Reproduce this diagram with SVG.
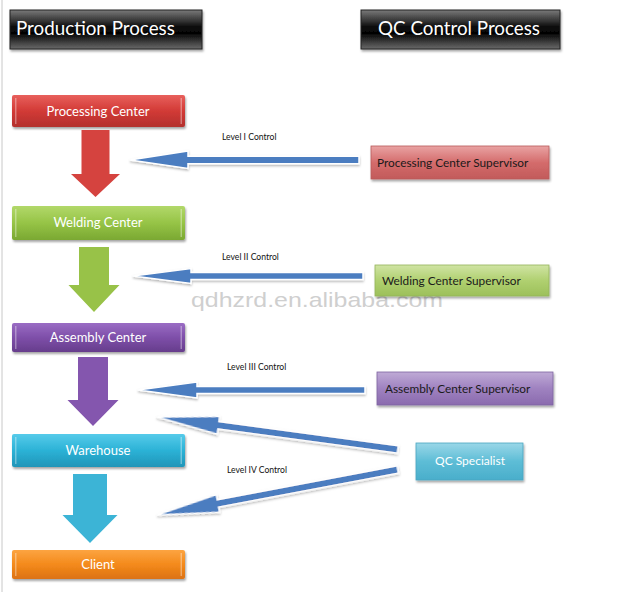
<svg xmlns="http://www.w3.org/2000/svg" width="634" height="604" viewBox="0 0 634 604">
<defs>
<linearGradient id="gHead" x1="0" y1="0" x2="0" y2="1"><stop offset="0" stop-color="#7a7a7a"/><stop offset="0.45" stop-color="#0a0a0a"/><stop offset="0.6" stop-color="#050505"/><stop offset="1" stop-color="#6a6a6a"/></linearGradient>
<linearGradient id="gRed" x1="0" y1="0" x2="0" y2="1"><stop offset="0" stop-color="#e8605c"/><stop offset="0.5" stop-color="#d23a36"/><stop offset="1" stop-color="#b3302d"/></linearGradient>
<linearGradient id="gGreen" x1="0" y1="0" x2="0" y2="1"><stop offset="0" stop-color="#b2d86a"/><stop offset="0.5" stop-color="#96c446"/><stop offset="1" stop-color="#7aa832"/></linearGradient>
<linearGradient id="gPurple" x1="0" y1="0" x2="0" y2="1"><stop offset="0" stop-color="#9a6cc4"/><stop offset="0.5" stop-color="#7e4fa9"/><stop offset="1" stop-color="#663d8c"/></linearGradient>
<linearGradient id="gCyan" x1="0" y1="0" x2="0" y2="1"><stop offset="0" stop-color="#56cbea"/><stop offset="0.5" stop-color="#2cb2d6"/><stop offset="1" stop-color="#1f95b8"/></linearGradient>
<linearGradient id="gOrange" x1="0" y1="0" x2="0" y2="1"><stop offset="0" stop-color="#fca440"/><stop offset="0.5" stop-color="#f48a1c"/><stop offset="1" stop-color="#dc7212"/></linearGradient>
<linearGradient id="sRed" x1="0" y1="0" x2="0" y2="1"><stop offset="0" stop-color="#e9a3a3"/><stop offset="0.5" stop-color="#d46c6c"/><stop offset="1" stop-color="#c25a5a"/></linearGradient>
<linearGradient id="sGreen" x1="0" y1="0" x2="0" y2="1"><stop offset="0" stop-color="#d0e4a4"/><stop offset="0.5" stop-color="#b0d070"/><stop offset="1" stop-color="#9cc05a"/></linearGradient>
<linearGradient id="sPurple" x1="0" y1="0" x2="0" y2="1"><stop offset="0" stop-color="#bfaad6"/><stop offset="0.5" stop-color="#9f82c0"/><stop offset="1" stop-color="#8a6aae"/></linearGradient>
<linearGradient id="sCyan" x1="0" y1="0" x2="0" y2="1"><stop offset="0" stop-color="#9ad7e8"/><stop offset="0.5" stop-color="#5dbdd6"/><stop offset="1" stop-color="#4aaecb"/></linearGradient>
<filter id="sh" x="-10%" y="-20%" width="120%" height="160%"><feDropShadow dx="1" dy="2" stdDeviation="1.2" flood-color="#000" flood-opacity="0.35"/></filter>
<filter id="ash" x="-10%" y="-50%" width="120%" height="200%"><feDropShadow dx="0" dy="1.5" stdDeviation="1" flood-color="#000" flood-opacity="0.3"/></filter>
</defs>
<style>
.hd{font-family:Lato,"Open Sans",sans-serif;font-size:18.8px;fill:#fff}
.bt{font-family:Lato,"Open Sans",sans-serif;font-size:13px;fill:#fff;text-anchor:middle}
.st{font-family:Lato,"Open Sans",sans-serif;font-size:11.8px;fill:#1a1a1a}
.lv{font-family:Lato,"Open Sans",sans-serif;font-size:8.6px;fill:#111}
.edge{fill:#fff;opacity:0.35}
.blue{fill:#4b7dc0;stroke:#fff;stroke-width:1.5;stroke-linejoin:miter;filter:url(#ash)}
</style>
<rect width="634" height="604" fill="#fff"/>
<line x1="2" y1="0" x2="2" y2="592" stroke="#c8c8c8" stroke-width="1"/>
<text x="191" y="307" font-family="Liberation Sans,Arial,sans-serif" font-size="21" fill="#cfcfcf" textLength="252" lengthAdjust="spacingAndGlyphs">qdhzrd.en.alibaba.com</text>

<g id="hdr-production"><rect x="10" y="10" width="192" height="39" fill="url(#gHead)" stroke="#222" stroke-width="1" filter="url(#sh)"/><text class="hd" x="16" y="35">Production Process</text></g>
<g id="hdr-qc"><rect x="361" y="10" width="199" height="39" fill="url(#gHead)" stroke="#222" stroke-width="1" filter="url(#sh)"/><text class="hd" x="378" y="35">QC Control Process</text></g>

<g id="processing-center"><rect x="12" y="95" width="173" height="32" rx="2" fill="url(#gRed)" filter="url(#sh)"/><rect class="edge" x="15" y="98" width="1.5" height="26"/><rect class="edge" x="180.5" y="98" width="1.5" height="26"/><text class="bt" x="98" y="116">Processing Center</text></g>
<g id="welding-center"><rect x="12" y="206" width="173" height="34" rx="2" fill="url(#gGreen)" filter="url(#sh)"/><rect class="edge" x="15" y="209" width="1.5" height="28"/><rect class="edge" x="180.5" y="209" width="1.5" height="28"/><text class="bt" x="98" y="227">Welding Center</text></g>
<g id="assembly-center"><rect x="12" y="323" width="173" height="29" rx="2" fill="url(#gPurple)" filter="url(#sh)"/><rect class="edge" x="15" y="326" width="1.5" height="23"/><rect class="edge" x="180.5" y="326" width="1.5" height="23"/><text class="bt" x="98" y="342">Assembly Center</text></g>
<g id="warehouse"><rect x="12" y="434" width="173" height="33" rx="2" fill="url(#gCyan)" filter="url(#sh)"/><rect class="edge" x="15" y="437" width="1.5" height="27"/><rect class="edge" x="180.5" y="437" width="1.5" height="27"/><text class="bt" x="98" y="455">Warehouse</text></g>
<g id="client"><rect x="12" y="550" width="173" height="29" rx="2" fill="url(#gOrange)" filter="url(#sh)"/><rect class="edge" x="15" y="553" width="1.5" height="23"/><rect class="edge" x="180.5" y="553" width="1.5" height="23"/><text class="bt" x="98" y="569">Client</text></g>

<g id="sup-processing"><rect x="371" y="146" width="178" height="33" fill="url(#sRed)" stroke="#b85a5a" stroke-width="0.8" filter="url(#sh)"/><text class="st" x="377" y="167">Processing Center Supervisor</text></g>
<g id="sup-welding"><rect x="375" y="265" width="174" height="31" fill="url(#sGreen)" stroke="#95b45a" stroke-width="0.8" filter="url(#sh)"/><text class="st" x="382" y="285">Welding Center Supervisor</text></g>
<g id="sup-assembly"><rect x="377" y="372" width="176" height="33" fill="url(#sPurple)" stroke="#7e64a0" stroke-width="0.8" filter="url(#sh)"/><text class="st" x="385" y="393">Assembly Center Supervisor</text></g>
<g id="qc-specialist"><rect x="416" y="443" width="107" height="37" fill="url(#sCyan)" stroke="#4aa6c0" stroke-width="0.8" filter="url(#sh)"/><text class="bt" x="470" y="465" style="font-size:12px">QC Specialist</text></g>

<g id="connectors">
<polygon fill="#d5433f" points="81.5,130 109.5,130 109.5,174 120,174 95.5,197 71,174 81.5,174"/>
<polygon fill="#98c248" points="79,247 109,247 109,285 119.5,285 94,312 68.5,285 79,285"/>
<polygon fill="#8456ae" points="78,357 108,357 108,400 118.5,400 93,426 67.5,400 78,400"/>
<polygon fill="#3cb4d6" points="73,474 107,474 107,515 117.5,515 90,543 62.5,515 73,515"/>
<polygon class="blue" transform="translate(130,160) rotate(0)" points="0,0 58,-9 58,-3.8 229,-3.8 229,3.8 58,3.8 58,8.5"/>
<polygon class="blue" transform="translate(133,276) rotate(0)" points="0,0 58,-7.5 58,-3.4 230,-3.4 230,3.4 58,3.4 58,7.5"/>
<polygon class="blue" transform="translate(138,390) rotate(0)" points="0,0 59,-8 59,-3.4 227,-3.4 227,3.4 59,3.4 59,8"/>
<polygon class="blue" transform="translate(157,417) rotate(7.68)" points="0,0 62,-9 62,-3.8 243,-3.8 243,3.8 62,3.8 62,9"/>
<polygon class="blue" transform="translate(157,515) rotate(-10.7)" points="0,0 62,-9 62,-3.8 245,-3.8 245,3.8 62,3.8 62,9"/>
<text class="lv" x="222" y="140">Level I Control</text>
<text class="lv" x="222" y="260">Level II Control</text>
<text class="lv" x="227" y="370">Level III Control</text>
<text class="lv" x="227" y="473">Level IV Control</text>
</g>
</svg>
